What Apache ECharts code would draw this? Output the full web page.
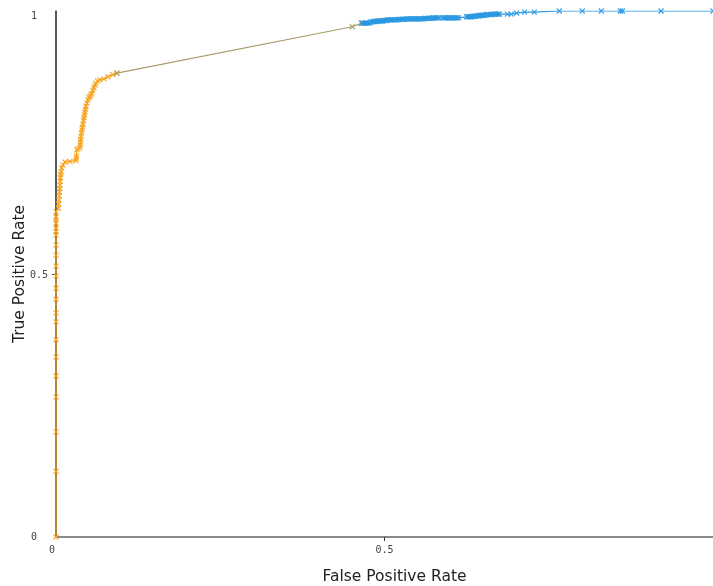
<!DOCTYPE html>
<html>
<head>
<meta charset="utf-8">
<title>ROC curve</title>
<script src="https://cdn.jsdelivr.net/npm/echarts@6/dist/echarts.min.js"></script>
<style>
  html, body { margin: 0; padding: 0; background: #ffffff; }
  #chart { width: 713px; height: 586px; }
</style>
</head>
<body>
<div id="chart"></div>
<script>
// ROC curve points: false positive rate / true positive rate.
// Warm segment: high-threshold operating points.
const warmFpr = [0, 0, 0, 0, 0, 0, 0, 0, 0, 0, 0, 0, 0, 0, 0, 0, 0, 0, 0, 0, 0, 0,
  0.0035, 0.004, 0.0046, 0.005, 0.0053, 0.0057, 0.006, 0.0064, 0.0068, 0.0072, 0.0076, 0.0087,
  0.0106, 0.0137, 0.0213, 0.0304,
  0.0308, 0.0312, 0.0315, 0.0334, 0.0365, 0.0368, 0.0372, 0.0376, 0.038, 0.0388, 0.0395,
  0.0402, 0.041, 0.0418, 0.0426, 0.0433, 0.044, 0.0448, 0.0456,
  0.0471, 0.0486, 0.0502, 0.0517, 0.0532, 0.0547, 0.0562, 0.0578, 0.0593, 0.0608, 0.0634,
  0.0669, 0.073, 0.079, 0.0866, 0.0927];
const warmTpr = [0, 0.125, 0.2, 0.266, 0.306, 0.342, 0.375, 0.409, 0.426, 0.452, 0.473,
  0.496, 0.515, 0.536, 0.555, 0.574, 0.581, 0.587, 0.597, 0.603, 0.608, 0.618,
  0.625, 0.633, 0.641, 0.649, 0.656, 0.662, 0.669, 0.676, 0.683, 0.689, 0.694, 0.702,
  0.707, 0.713, 0.714, 0.715,
  0.720, 0.724, 0.736, 0.738, 0.740, 0.745, 0.751, 0.756, 0.762, 0.768, 0.774,
  0.779, 0.785, 0.791, 0.797, 0.802, 0.808, 0.813, 0.819,
  0.825, 0.831, 0.835, 0.838, 0.841, 0.844, 0.849, 0.854, 0.859, 0.863, 0.867,
  0.869, 0.871, 0.875, 0.879, 0.882];

// Bridge between the two regimes.
const bridgeFpr = [0.0927, 0.451, 0.465];
const bridgeTpr = [0.882, 0.970, 0.977];

// Cool segment: low-threshold operating points.
const coolFpr = [0.465, 0.467, 0.469, 0.471, 0.473, 0.475, 0.477,
  0.479, 0.481, 0.483, 0.485, 0.487, 0.489, 0.491, 0.493, 0.495, 0.497,
  0.499, 0.501, 0.503, 0.505, 0.507, 0.509, 0.511, 0.513, 0.515, 0.517, 0.519, 0.521,
  0.523, 0.525, 0.527, 0.529, 0.531,
  0.533, 0.535, 0.537, 0.539, 0.541, 0.543, 0.545, 0.547, 0.549, 0.551, 0.553, 0.555,
  0.557, 0.559, 0.561, 0.563, 0.565, 0.567,
  0.569, 0.571, 0.573, 0.575, 0.577, 0.579, 0.581, 0.583,
  0.589, 0.591, 0.593, 0.595, 0.597, 0.599, 0.601, 0.603, 0.605, 0.607, 0.609, 0.611, 0.613,
  0.625, 0.627, 0.629, 0.631, 0.633, 0.635, 0.637,
  0.639, 0.641, 0.643, 0.645, 0.647, 0.649, 0.651, 0.653, 0.655, 0.657, 0.659, 0.661,
  0.663, 0.665, 0.667, 0.669, 0.671, 0.673, 0.675,
  0.687, 0.693, 0.701, 0.713, 0.728,
  0.766, 0.801, 0.830, 0.859, 0.862, 0.921, 1.0];
const coolTpr = [0.977, 0.977, 0.977, 0.977, 0.977, 0.977, 0.977,
  0.979, 0.979, 0.980, 0.980, 0.980, 0.981, 0.981, 0.981, 0.981, 0.981,
  0.982, 0.982, 0.982, 0.983, 0.983, 0.983, 0.983, 0.983, 0.983, 0.983, 0.983, 0.984,
  0.984, 0.984, 0.984, 0.984, 0.984,
  0.985, 0.985, 0.985, 0.985, 0.985, 0.985, 0.985, 0.985, 0.985, 0.985, 0.985, 0.985,
  0.985, 0.985, 0.986, 0.986, 0.986, 0.986,
  0.986, 0.986, 0.987, 0.987, 0.987, 0.987, 0.987, 0.987,
  0.987, 0.987, 0.987, 0.987, 0.987, 0.987, 0.987, 0.987, 0.987, 0.987, 0.987, 0.987, 0.987,
  0.989, 0.989, 0.989, 0.989, 0.989, 0.990, 0.990,
  0.990, 0.991, 0.991, 0.991, 0.992, 0.992, 0.992, 0.992, 0.993, 0.993, 0.993, 0.993,
  0.993, 0.994, 0.994, 0.994, 0.994, 0.994, 0.994,
  0.994, 0.994, 0.996, 0.998, 0.998,
  1.0, 1.0, 1.0, 1.0, 1.0, 1.0, 1.0];

const xTickValues = [0, 0.5];
const yTickValues = [0, 0.5, 1];

const WARM = '#f5a21c';
const BRIDGE = '#a89c6c';
const COOL = '#2a97e2';
const CROSS = 'path://M0,0L10,10M10,0L0,10';

function pairs(xs, ys) {
  return xs.map((x, i) => [x, ys[i]]);
}

function rocSeries(name, xs, ys, color) {
  return {
    name: name,
    type: 'line',
    data: pairs(xs, ys),
    showSymbol: true,
    showAllSymbol: true,
    symbol: CROSS,
    symbolSize: 5,
    lineStyle: { color: color, width: 1.2 },
    itemStyle: { color: color, borderColor: color, borderWidth: 1.2, opacity: 0.9 },
    emphasis: { disabled: true },
    animation: false,
    clip: true,
    z: 3
  };
}

const labelFont = { fontFamily: 'DejaVu Sans Mono', fontSize: 10, color: '#444' };

const chart = echarts.init(document.getElementById('chart'), null, { renderer: 'canvas' });

chart.setOption({
  backgroundColor: '#ffffff',
  animation: false,
  grid: { left: 56, right: 0, top: 11, bottom: 49, containLabel: false, outerBoundsMode: 'none' },
  xAxis: {
    type: 'value',
    min: 0,
    max: 1,
    name: 'False Positive Rate',
    nameLocation: 'middle',
    nameGap: 32,
    nameMoveOverlap: false,
    nameTextStyle: { fontFamily: 'DejaVu Sans', fontSize: 15.5, color: '#222', padding: [0, 0, 0, 20] },
    axisLine: { show: true, onZero: false, lineStyle: { color: '#8a8a8a', width: 2 } },
    axisTick: { show: true, customValues: [0.5], length: 4, lineStyle: { color: '#333', width: 1 } },
    axisLabel: Object.assign({
      customValues: xTickValues,
      margin: 8,
      formatter: v => (v === 0 ? '{z|0}' : String(v)),
      rich: { z: Object.assign({ padding: [0, 8, 0, 0] }, labelFont) }
    }, labelFont),
    splitLine: { show: false }
  },
  yAxis: {
    type: 'value',
    min: 0,
    max: 1,
    name: 'True Positive Rate',
    nameLocation: 'middle',
    nameGap: 28,
    nameMoveOverlap: false,
    nameTextStyle: { fontFamily: 'DejaVu Sans', fontSize: 15.5, color: '#222' },
    axisLine: { show: true, onZero: false, lineStyle: { color: '#222', width: 1.5 } },
    axisTick: { show: true, customValues: [0.5], length: 4, lineStyle: { color: '#333', width: 1 } },
    axisLabel: Object.assign({
      customValues: yTickValues,
      margin: 8,
      formatter: v => (v === 0.5 ? '{m|0.5}' : v === 1 ? '{t|1}' : '{e|0}'),
      rich: {
        m: Object.assign({ padding: [3, 0, 0, 0] }, labelFont),
        t: Object.assign({ padding: [11, 11, 0, 0] }, labelFont),
        e: Object.assign({ padding: [0, 11, 0, 0] }, labelFont)
      }
    }, labelFont),
    splitLine: { show: false }
  },
  series: [
    rocSeries('warm', warmFpr, warmTpr, WARM),
    rocSeries('bridge', bridgeFpr, bridgeTpr, BRIDGE),
    rocSeries('cool', coolFpr, coolTpr, COOL)
  ]
});
</script>
</body>
</html>
